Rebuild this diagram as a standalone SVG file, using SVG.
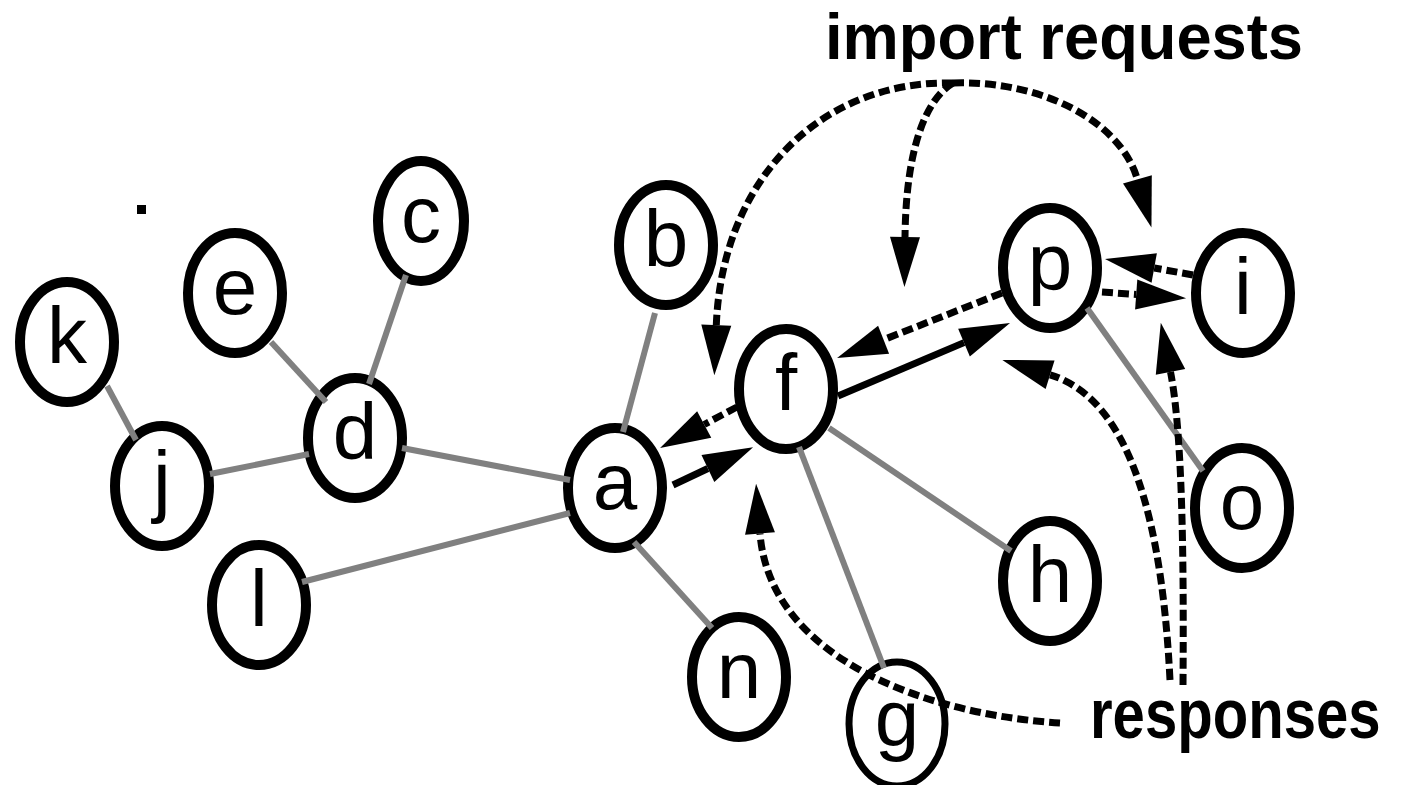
<svg xmlns="http://www.w3.org/2000/svg" width="1414" height="785" viewBox="0 0 1414 785">
  <style>
    .node ellipse { fill: #fff; stroke: #000; stroke-width: 10; }
    .node text { font-family: "Liberation Sans", Arial, sans-serif; font-size: 80px; text-anchor: middle; fill: #000; }
    .edge { stroke: #808080; stroke-width: 6; fill: none; }
    .solid { stroke: #000; stroke-width: 7; fill: none; marker-end: url(#ah); }
    .dash { stroke: #000; stroke-width: 7; fill: none; stroke-dasharray: 11 5; }
    .dash.arrow { marker-end: url(#ah); }
    .caption { font-family: "Liberation Sans", Arial, sans-serif; font-weight: bold; fill: #000; }
  </style>
  <defs>
    <marker id="ah" markerUnits="userSpaceOnUse" orient="auto" refX="0" refY="0" markerWidth="60" markerHeight="40" overflow="visible">
      <path d="M0,-15 L50,0 L0,15 z" fill="#000"/>
    </marker>
  </defs>
  <rect width="1414" height="785" fill="#fff"/>

  <!-- nodes -->
  <g id="node-k" class="node"><ellipse cx="67" cy="342" rx="47" ry="60"/><text x="67" y="363">k</text></g>
  <g id="node-e" class="node"><ellipse cx="235" cy="293" rx="47" ry="60"/><text x="235" y="314">e</text></g>
  <g id="node-c" class="node"><ellipse cx="421" cy="221" rx="43" ry="60"/><text x="421" y="242">c</text></g>
  <g id="node-d" class="node"><ellipse cx="355" cy="438" rx="47" ry="60"/><text x="355" y="459">d</text></g>
  <g id="node-j" class="node"><ellipse cx="162" cy="486" rx="47" ry="60"/><text x="162" y="507">j</text></g>
  <g id="node-l" class="node"><ellipse cx="259" cy="605" rx="47" ry="60"/><text x="259" y="626">l</text></g>
  <g id="node-a" class="node"><ellipse cx="615" cy="488" rx="47" ry="60"/><text x="615" y="509">a</text></g>
  <g id="node-b" class="node"><ellipse cx="666" cy="245" rx="47" ry="60"/><text x="666" y="266">b</text></g>
  <g id="node-f" class="node"><ellipse cx="786" cy="389" rx="47" ry="60"/><text x="786" y="410">f</text></g>
  <g id="node-n" class="node"><ellipse cx="739" cy="677" rx="47" ry="60"/><text x="739" y="698">n</text></g>
  <g id="node-g" class="node"><ellipse cx="897" cy="724" rx="48" ry="62" style="stroke-width:7"/><text x="897" y="745">g</text></g>
  <g id="node-h" class="node"><ellipse cx="1050" cy="581" rx="47" ry="60"/><text x="1050" y="602">h</text></g>
  <g id="node-p" class="node"><ellipse cx="1050" cy="268" rx="47" ry="60"/><text x="1050" y="289">p</text></g>
  <g id="node-i" class="node"><ellipse cx="1243" cy="293" rx="47" ry="60"/><text x="1243" y="314">i</text></g>
  <g id="node-o" class="node"><ellipse cx="1242" cy="508" rx="47" ry="60"/><text x="1242" y="529">o</text></g>

  <!-- stray dot -->
  <rect x="137" y="205" width="9" height="9" fill="#000"/>

  <!-- connectors -->
  <g id="connectors">
    <!-- undirected graph edges -->
    <line class="edge" x1="107" y1="386" x2="136" y2="440"/>
    <line class="edge" x1="271" y1="342" x2="326" y2="402"/>
    <line class="edge" x1="406" y1="275" x2="369" y2="384"/>
    <line class="edge" x1="210" y1="474" x2="309" y2="454"/>
    <line class="edge" x1="402" y1="448" x2="570" y2="480"/>
    <line class="edge" x1="302" y1="582" x2="570" y2="513"/>
    <line class="edge" x1="655" y1="313" x2="623" y2="432"/>
    <line class="edge" x1="634" y1="542" x2="712" y2="628"/>
    <line class="edge" x1="799" y1="447" x2="884" y2="668"/>
    <line class="edge" x1="829" y1="428" x2="1011" y2="551"/>
    <line class="edge" x1="1087" y1="308" x2="1203" y2="471"/>

    <!-- solid import links -->
    <path class="solid" d="M673,485 L707.9,468.5"/>
    <path class="solid" d="M838,396 L964,342.6"/>

    <!-- dashed replies between neighbours -->
    <path class="dash arrow" d="M737,407 L704.2,424.5"/>
    <path class="dash arrow" d="M1002,293 L883.6,339.7"/>
    <path class="dash arrow" d="M1193,275 L1154.2,268"/>
    <path class="dash arrow" d="M1102,292 L1136.2,294.5"/>

    <!-- import requests fan-out -->
    <path class="dash arrow" d="M953,83 C820,80 722,180 716.3,325.2"/>
    <path class="dash arrow" d="M953,83 C925,100 906,150 905,237"/>
    <path class="dash arrow" d="M953,83 C1040,80 1120,120 1137.4,179.4"/>

    <!-- responses fan-in -->
    <path class="dash arrow" d="M1060,723 C930,715 770,660 760,533.5"/>
    <path class="dash arrow" d="M1170,680 C1160,480 1115,395 1050.1,374.8"/>
    <path class="dash arrow" d="M1183,685 C1184,550 1182,430 1170.5,371.9"/>
  </g>

  <!-- captions -->
  <text class="caption" x="825" y="59" font-size="64" textLength="478" lengthAdjust="spacingAndGlyphs">import requests</text>
  <text class="caption" font-size="70" transform="translate(1090,738) scale(0.83,1)">responses</text>
</svg>
